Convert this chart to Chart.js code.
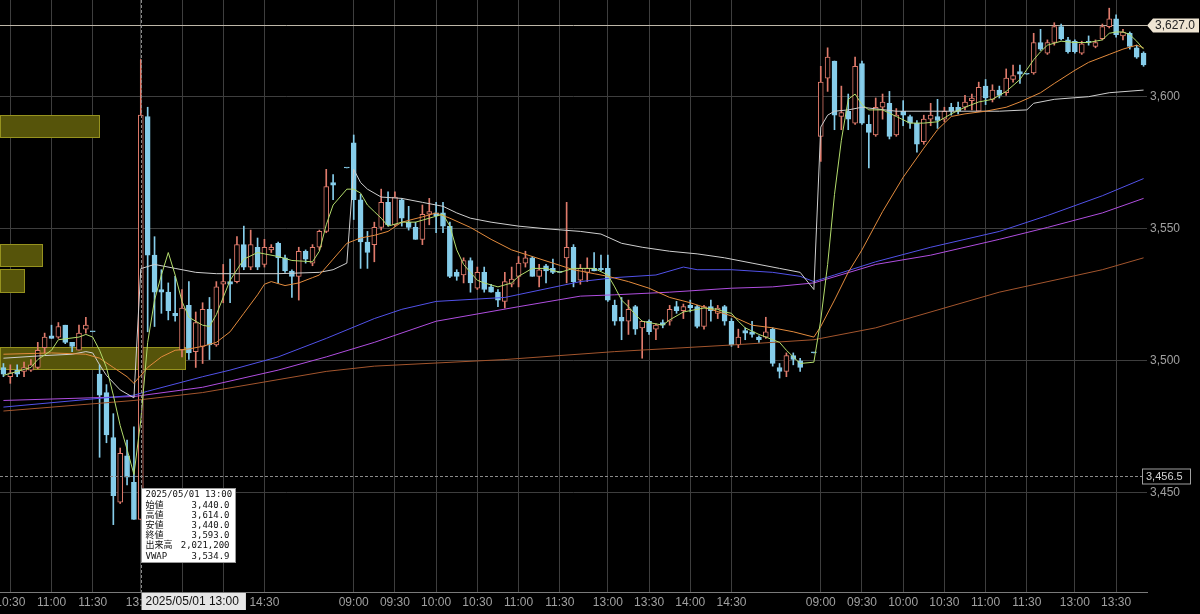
<!DOCTYPE html>
<html lang="ja">
<head>
<meta charset="utf-8">
<title>5分足チャート</title>
<script src="https://cdn.jsdelivr.net/npm/chart.js@4.4.1/dist/chart.umd.min.js"></script>
<style>
  html, body { margin: 0; padding: 0; background: #000; }
  #box { position: relative; width: 1200px; height: 614px; }
</style>
</head>
<body>
<div id="box"><canvas id="chart"></canvas></div>
<script>
// 5-minute candles, 05/01 10:25 -> 05/07 13:50
const days = ['05/01', '05/02', '05/07'];
const firstBar = '10:25';
const lastBar = '13:50';
const tickTimes = ['09:00', '09:30', '10:00', '10:30', '11:00', '11:30', '13:00', '13:30', '14:00', '14:30'];
const yTicks = [3450, 3500, 3550, 3600];
const yMin = 3412.5, yMax = 3636.6;

// OHLC, one entry per bar (null = no trade)
const opens = [
  3497.5,3494,3496.5,3496,3496.5,3497.5,3505,3509.5,3509,3513.5,3507,3504,3512,3511,
  3495,3488,3471,3446.5,3464,3454,3440,3592.5,3540,3527,3526,3518,3504,3521,3503.5,3505.5,3519.5,3506,3529,3530,3530,3544,3535.5,3543,3536.5,3542,3544.5,3539,3534,3532,3541.5,3537,3543,3549,3567.5,null,3573,
  3582.5,3561,3545,3544,3550.5,3560,3551.5,3561,3552.5,3550.5,3546,3555.5,3556,3556,3551,3533.5,3532.5,3538,3527.5,3533.5,3528,3526,3522.5,3529,3532,3537,3539,3532,3536,3535,3533.5,
  3539,3543,3530.5,3533.5,3535,3535,3535,3521,3516.5,3515,3520.5,3512.5,3515,3512,3514.5,3515,3520.5,3519,3521,3520.5,3513,3520.5,3518,3520.5,3515,3506,3511.5,3511,3509,3509,3512,3497.5,3496,3502,3500,null,3503,
  3585,3607,3613.5,3592.5,3594.5,3590,3612.5,3589.5,3585.5,3596,3597.5,3585.5,3594.5,3592.5,3590,3583,3591.5,3592.5,3591.5,3596,3596,3596,3598.5,3594.5,3604,3599,3602.5,3601.5,3606.5,3609.5,3608.5,
  3609,3620.5,3616.5,3620.5,3626.5,3621.5,3621,3616.5,3621,3619,3622,3626.5,3629.5,3623,3624,3618.5,3616.5
];
const highs = [
  3499,3498.5,3498.5,3499.5,3500.5,3507,3510.5,3513.5,3514.5,3513.5,3507,3513.5,3516.5,3511,
  3498.5,3491,3480,3467,3470,3475,3614,3596,3547,3534.5,3529.5,3532,3527,3530,3518.5,3522,3524,3530,3536.5,3538.5,3547,3551,3549.5,3546.5,3546,3544,3545,3540,3534.5,3543,3542,3544,3549.5,3572.5,3570.5,null,3573,
  3585.5,3563,3549,3552.5,3565,3564,3564,3561.5,3558.5,3552.5,3559,3561.5,3560,3560,3552.5,3534.5,3539,3539,3535.5,3535.5,3529,3527,3533.5,3535.5,3539.5,3541.5,3539.5,3536.5,3536.5,3538.5,3533.5,
  3560,3544,3536.5,3539,3541,3540,3540,3523,3524,3523,3521,3515,3515.5,3514,3515.5,3521,3522.5,3521.5,3523,3521,3521,3523,3521,3521,3516,3512,3512.5,3515,3509.5,3516.5,3512.5,3499,3503,3503,3501,null,3503,
  3611.5,3618.5,3613.5,3604,3601,3615,3613.5,3593,3599.5,3601,3602,3595.5,3598.5,3593,3591,3593,3597.5,3599,3596,3597.5,3598,3600.5,3601,3605.5,3606.5,3604.5,3604,3610.5,3612,3612,3608.5,
  3624,3625.5,3621.5,3628,3627.5,3622.5,3621.5,3621,3623,3621.5,3627.5,3633.5,3631,3625.5,3624.5,3619.5,3617
];
const lows = [
  3494,3491.5,3494,3494,3496,3497,3503,3508.5,3508.5,3506.5,3503.5,3504,3510.5,3511,
  3463.5,3469,3438,3446,3453,3440,3440,3511,3513,3518,3515.5,3515,3501.5,3500.5,3497.5,3499,3500.5,3505.5,3522,3522,3529.5,3534.5,3534.5,3534.5,3535.5,3541,3529.5,3533.5,3524,3523,3537,3536,3542,3548.5,3561,null,3573,
  3553.5,3535,3535,3537.5,3549.5,3551,3551,3551,3549.5,3546,3544,3551.5,3548.5,3548.5,3531.5,3530.5,3529.5,3526,3527,3526,3526,3520.5,3520,3528,3528,3535.5,3532,3528,3529.5,3533,3533.5,
  3529.5,3528,3529,3530,3534,3534,3522.5,3513.5,3508,3510,3510,3501,3510,3508,3512.5,3513.5,3518,3516,3518.5,3512.5,3512,3515,3516,3513.5,3505.5,3505,3508,3509,3507,3508.5,3498,3493.5,3494,3498.5,3496,null,3503,
  3575.5,3602,3587.5,3587.5,3587.5,3589.5,3589.5,3573,3585,3591.5,3584,3585,3589,3588,3579,3582,3589,3588,3590.5,3593,3593.5,3595,3595,3594.5,3597,3598,3599.5,3600.5,3605.5,3605,3608.5,
  3608.5,3617.5,3616,3619.5,3621.5,3616.5,3616.5,3616,3619.5,3618.5,3621.5,3626,3622.5,3621.5,3618,3614.5,3611.5
];
const closes = [
  3495,3495.5,3495,3497.5,3498.5,3504,3509,3508.5,3513,3507,3505.5,3510.5,3513.5,3511,
  3487,3472,3449,3465,3456,3440,3593,3540,3526,3526,3519,3517,3520,3503,3514.5,3519.5,3506,3528,3530,3529,3544,3535.5,3544,3535.5,3543,3543,3539,3534,3532,3541.5,3538.5,3543,3549,3566,3566.5,null,3573,
  3561,3545,3541,3550.5,3560,3551.5,3562,3554,3550.5,3546,3555.5,3556.5,3555,3551,3532,3532,3538,3529.5,3533.5,3527,3526,3523,3530,3531,3537,3539,3532,3534.5,3534,3533.5,3533.5,
  3543,3530,3535,3535,3534,3534.5,3523,3515,3515,3519.5,3512,3515,3511,3513.5,3513.5,3519.5,3519,3520.5,3520,3513,3520.5,3519,3520,3515,3506,3509,3510.5,3510,3508,3511,3499,3496,3502,3500.5,3497.5,null,3503,
  3605.5,3615,3593,3594,3591.5,3611.5,3590,3586.5,3596,3598,3585,3593,3593,3590,3582,3591.5,3593,3591,3594.5,3594.5,3594.5,3598,3599.5,3603.5,3599.5,3602.5,3600.5,3607,3608,3608.5,3608.5,
  3620.5,3618,3620.5,3626.5,3622,3617,3617,3620,3620.5,3620.5,3626.5,3629.5,3623.5,3624.5,3619,3615,3612
];

// indicator lines, read at selected bars
const ma5 = [
  ['05/01 10:25',3494.5],['05/01 10:45',3497.5],['05/01 10:50',3500.5],['05/01 11:00',3504],['05/01 11:05',3508],
  ['05/01 11:20',3509],['05/01 11:25',3510],['05/01 11:30',3509],['05/01 12:30',3504],['05/01 12:35',3497.5],
  ['05/01 12:40',3487],['05/01 12:45',3475.5],['05/01 12:50',3466.5],['05/01 12:55',3457],['05/01 13:00',3477.5],
  ['05/01 13:05',3507],['05/01 13:10',3523],['05/01 13:15',3532.5],['05/01 13:20',3541],['05/01 13:25',3532.5],
  ['05/01 13:30',3522.5],['05/01 13:35',3516.5],['05/01 13:40',3515],['05/01 13:45',3513.5],['05/01 13:50',3513],
  ['05/01 13:55',3517.5],['05/01 14:00',3524],['05/01 14:05',3530.5],['05/01 14:15',3538.5],['05/01 14:25',3541],
  ['05/01 14:40',3539.5],['05/01 14:50',3538],['05/01 15:05',3537.5],['05/01 15:10',3541.5],['05/01 15:15',3551.5],
  ['05/01 15:20',3559],['05/01 15:30',3565],
  ['05/02 09:00',3565],['05/02 09:05',3563.5],['05/02 09:10',3559],['05/02 09:15',3556.5],['05/02 09:20',3554],
  ['05/02 09:25',3551],['05/02 09:35',3552.5],['05/02 09:45',3552.5],['05/02 09:55',3554],['05/02 10:05',3555.5],
  ['05/02 10:10',3551],['05/02 10:15',3542],['05/02 10:20',3536.5],['05/02 10:25',3533.5],['05/02 10:30',3530.5],
  ['05/02 10:35',3529.5],['05/02 10:45',3528],['05/02 10:55',3529.5],['05/02 11:00',3532],['05/02 11:10',3535],
  ['05/02 11:20',3535],['05/02 11:30',3533.5],['05/02 12:35',3535],['05/02 12:50',3535],['05/02 13:00',3532.5],
  ['05/02 13:05',3528],['05/02 13:10',3523],['05/02 13:15',3520.5],['05/02 13:20',3517.5],['05/02 13:25',3515],
  ['05/02 13:35',3514],['05/02 13:40',3513.5],['05/02 13:45',3515.5],['05/02 13:55',3518.5],['05/02 14:05',3519.5],
  ['05/02 14:10',3520],['05/02 14:20',3519.5],['05/02 14:25',3518.5],['05/02 14:30',3518],['05/02 14:35',3515],
  ['05/02 14:40',3512.5],['05/02 14:50',3510],['05/02 15:00',3508],['05/02 15:05',3507],['05/02 15:10',3504],
  ['05/02 15:20',3499],['05/02 15:30',3499.5],
  ['05/07 09:00',3515.5],['05/07 09:05',3536.5],['05/07 09:10',3563],['05/07 09:15',3583.5],['05/07 09:20',3599],
  ['05/07 09:25',3601],['05/07 09:30',3597],['05/07 09:35',3595],['05/07 09:45',3595],['05/07 09:55',3592.5],
  ['05/07 10:05',3590],['05/07 10:15',3590],['05/07 10:25',3590.5],['05/07 10:35',3593.5],['05/07 10:45',3596],
  ['05/07 10:55',3598],['05/07 11:05',3599],['05/07 11:15',3602],['05/07 11:25',3606.5],['05/07 12:30',3614],
  ['05/07 12:35',3617],['05/07 12:40',3619.5],['05/07 12:50',3621],['05/07 13:00',3620.5],['05/07 13:10',3620.5],
  ['05/07 13:20',3621.5],['05/07 13:25',3624],['05/07 13:30',3624.5],['05/07 13:35',3624.5],['05/07 13:40',3623.5],
  ['05/07 13:45',3621],['05/07 13:50',3618]
];
const ma25 = [
  ['05/01 10:25',3502.5],['05/01 11:00',3503],['05/01 11:25',3502.5],['05/01 12:30',3501],['05/01 12:40',3497.5],
  ['05/01 12:50',3494],['05/01 12:55',3491.5],['05/01 13:00',3494.5],['05/01 13:05',3497.5],['05/01 13:15',3501.5],
  ['05/01 13:25',3504],['05/01 13:35',3504.5],['05/01 13:45',3505.5],['05/01 13:55',3507],['05/01 14:05',3511],
  ['05/01 14:15',3518],['05/01 14:25',3525],['05/01 14:30',3529],['05/01 14:35',3530],['05/01 14:45',3528.5],
  ['05/01 14:55',3529.5],['05/01 15:05',3531.5],['05/01 15:10',3532.5],['05/01 15:20',3538.5],['05/01 15:30',3544.5],
  ['05/02 09:05',3546.5],['05/02 09:15',3547.5],['05/02 09:25',3549],['05/02 09:35',3552.5],['05/02 09:50',3554.5],
  ['05/02 10:00',3556],['05/02 10:10',3554],['05/02 10:25',3550.5],['05/02 10:40',3546],['05/02 10:55',3542],
  ['05/02 11:10',3539.5],['05/02 11:25',3537],['05/02 12:35',3534.5],['05/02 12:50',3533],['05/02 13:00',3532],
  ['05/02 13:15',3530],['05/02 13:30',3527.5],['05/02 13:45',3524],['05/02 14:00',3522],['05/02 14:15',3519.5],
  ['05/02 14:30',3517],['05/02 14:45',3513.5],['05/02 15:00',3512.5],['05/02 15:15',3511],['05/02 15:30',3509],
  ['05/07 09:00',3513],['05/07 09:10',3523],['05/07 09:20',3533.5],['05/07 09:30',3542],['05/07 09:45',3556.5],
  ['05/07 10:00',3569.5],['05/07 10:15',3580.5],['05/07 10:25',3587.5],['05/07 10:35',3592.5],['05/07 10:45',3593.5],
  ['05/07 11:00',3594.5],['05/07 11:15',3596],['05/07 11:25',3598],['05/07 12:35',3601.5],['05/07 12:45',3605],
  ['05/07 13:00',3610],['05/07 13:10',3613],['05/07 13:25',3616],['05/07 13:35',3618],['05/07 13:45',3619.5],
  ['05/07 13:50',3618.5]
];
const vwap = [
  ['05/01 10:25',3501],['05/01 10:55',3502],['05/01 11:15',3502.5],['05/01 11:25',3503.5],['05/01 11:30',3503],
  ['05/01 12:30',3498.5],['05/01 12:35',3494.5],['05/01 12:45',3489],['05/01 12:55',3486],['05/01 13:00',3534.9],
  ['05/01 13:10',3536.5],['05/01 13:25',3535],['05/01 13:40',3533.5],['05/01 13:55',3533],['05/01 14:40',3533],
  ['05/01 15:10',3533.5],['05/01 15:20',3534.5],['05/01 15:30',3537],
  ['05/02 09:00',3572.5],['05/02 09:05',3567.5],['05/02 09:10',3565],['05/02 09:20',3562],['05/02 09:35',3561.5],
  ['05/02 09:50',3560],['05/02 10:05',3558.5],['05/02 10:15',3556],['05/02 10:25',3554],['05/02 10:40',3552.5],
  ['05/02 11:00',3551],['05/02 11:20',3550],['05/02 12:40',3549],['05/02 12:55',3548],['05/02 13:10',3544.5],
  ['05/02 13:25',3543],['05/02 13:45',3541.5],['05/02 14:05',3540.5],['05/02 14:25',3539],['05/02 14:45',3537],
  ['05/02 15:05',3535],['05/02 15:20',3533.5],['05/02 15:30',3527],
  ['05/07 09:00',3588.5],['05/07 09:05',3593],['05/07 09:10',3594.5],['05/07 09:20',3595],['05/07 09:30',3596],
  ['05/07 09:55',3594.5],['05/07 10:20',3594.5],['05/07 10:45',3594.5],['05/07 11:10',3594.5],['05/07 11:30',3595],
  ['05/07 12:30',3597.5],['05/07 12:45',3599],['05/07 13:10',3600],['05/07 13:25',3601.5],['05/07 13:50',3602.5]
];
const ma75 = [
  ['05/01 10:25',3482.5],['05/01 12:55',3487],['05/01 13:05',3488.5],['05/01 13:45',3494],['05/01 14:05',3496.5],
  ['05/01 14:40',3501.5],['05/01 15:15',3508.5],['05/02 09:15',3516],['05/02 09:35',3519.5],['05/02 10:00',3522.5],
  ['05/02 10:50',3524],['05/02 12:40',3530],['05/02 13:05',3531.5],['05/02 13:35',3532.5],['05/02 13:55',3535.5],
  ['05/02 14:05',3534.5],['05/02 14:30',3534.5],['05/02 15:00',3533.5],['05/02 15:20',3532],['05/02 15:30',3530],
  ['05/07 09:10',3532.5],['05/07 09:40',3537.5],['05/07 10:20',3543],['05/07 11:10',3549],['05/07 12:40',3555],
  ['05/07 13:20',3562.5],['05/07 13:50',3569]
];
const ma100 = [
  ['05/01 10:25',3485],['05/01 12:55',3486.5],['05/01 13:45',3490],['05/01 14:40',3496.5],['05/01 15:15',3501.5],
  ['05/02 09:15',3507],['05/02 10:00',3515],['05/02 11:00',3520.5],['05/02 12:40',3524.5],['05/02 13:05',3525],
  ['05/02 13:45',3526],['05/02 14:30',3527.5],['05/02 15:00',3528],['05/02 15:30',3529.5],['05/07 09:40',3536.5],
  ['05/07 10:20',3540],['05/07 11:10',3546],['05/07 12:40',3550.5],['05/07 13:20',3556],['05/07 13:50',3561.5]
];
const ma200 = [
  ['05/01 10:25',3481],['05/01 12:55',3485],['05/01 13:45',3488],['05/01 15:15',3496],['05/02 09:15',3498],
  ['05/02 10:50',3500.5],['05/02 13:05',3503.5],['05/02 14:30',3506],['05/02 15:30',3508],['05/07 09:40',3512.5],
  ['05/07 11:10',3526],['05/07 13:20',3534.5],['05/07 13:50',3539]
];

// price-volume bands at the left edge
const bandLow  = [3584.5, 3535.6, 3525.8, 3496.6];
const bandHigh = [3593.2, 3544.3, 3534.8, 3505.3];
const bandVol  = [100, 43, 25, 185];

const lastPrice = 3627.0;
const crossTime = '05/01 13:00';
const crossPrice = 3456.5;
const crossVolume = 2021200;

const upColor = '#e07b6c';
const downColor = '#86cdea';
const gridColor = '#3e3e3e';
const axisFont = { family: '"Liberation Sans", Arial, sans-serif', size: 12 };

function hhmm(m) {
  return String(Math.floor(m / 60)).padStart(2, '0') + ':' + String(m % 60).padStart(2, '0');
}
const session = [];
for (let m = 9 * 60; m <= 11 * 60 + 30; m += 5) session.push(hhmm(m));
for (let m = 12 * 60 + 30; m <= 15 * 60 + 30; m += 5) session.push(hhmm(m));

const labels = [];
days.forEach((d, k) => {
  let times = session;
  if (k === 0) times = times.slice(times.indexOf(firstBar));
  if (k === days.length - 1) times = times.slice(0, times.indexOf(lastBar) + 1);
  times.forEach(t => labels.push(d + ' ' + t));
});
const tickIdx = labels.map((l, i) => tickTimes.includes(l.slice(6)) ? i : -1).filter(i => i >= 0);

function sparse(pairs) {
  const arr = labels.map(() => null);
  pairs.forEach(([t, v]) => { arr[labels.indexOf(t)] = v; });
  return arr;
}
const fmt1 = v => v.toLocaleString('en-US', { minimumFractionDigits: 1, maximumFractionDigits: 1 });

const isUp = opens.map((o, k) => o != null && closes[k] > o);
const wickData = lows.map((l, k) => l == null ? null : [l, highs[k]]);
const bodyData = opens.map((o, k) => o == null ? null : [o, closes[k]]);
const vwapData = sparse(vwap);

function lineSet(label, data, color) {
  return { type: 'line', label, data, borderColor: color,
           borderWidth: 1, pointRadius: 0, spanGaps: true, tension: 0, order: 0 };
}

const overlay = {
  id: 'overlay',
  beforeDraw(chart) {
    const c = chart.ctx;
    c.save(); c.fillStyle = '#000'; c.fillRect(0, 0, chart.width, chart.height); c.restore();
  },
  beforeDatasetsDraw(chart) {
    const { ctx, chartArea: a, scales: { y } } = chart;
    ctx.save();
    const maxVol = Math.max(...bandVol);
    bandLow.forEach((lo, k) => {
      const top = Math.round(y.getPixelForValue(bandHigh[k]));
      const bot = Math.round(y.getPixelForValue(lo));
      const w = Math.round(bandVol[k] / maxVol * a.width * 0.162);
      ctx.fillStyle = '#56540a';
      ctx.fillRect(a.left, top, w, bot - top);
      ctx.strokeStyle = '#96921f';
      ctx.lineWidth = 1;
      ctx.strokeRect(a.left + 0.5, top + 0.5, w - 1, bot - top - 1);
    });
    const ly = Math.round(y.getPixelForValue(lastPrice)) + 0.5;
    ctx.strokeStyle = '#bdb6a8';
    ctx.beginPath(); ctx.moveTo(a.left, ly); ctx.lineTo(a.right, ly); ctx.stroke();
    ctx.restore();
  },
  afterDraw(chart) {
    const { ctx, chartArea: a, scales: { x, y } } = chart;
    const ci = labels.indexOf(crossTime);
    const cx = Math.round(x.getPixelForValue(ci)) + 0.5;
    const cy = Math.round(y.getPixelForValue(crossPrice)) + 0.5;
    ctx.save();
    // crosshair
    ctx.lineWidth = 1;
    ctx.strokeStyle = '#8a8a8a';
    ctx.setLineDash([3, 2]);
    ctx.beginPath();
    ctx.moveTo(a.left, cy); ctx.lineTo(a.right, cy);
    ctx.moveTo(cx, a.top); ctx.lineTo(cx, a.bottom);
    ctx.stroke();
    ctx.setLineDash([]);

    // last price tag
    const ly = Math.round(y.getPixelForValue(lastPrice)) + 0.5;
    ctx.fillStyle = '#efe5d3';
    ctx.beginPath();
    ctx.moveTo(a.right, ly);
    ctx.lineTo(a.right + 6, ly - 7);
    ctx.lineTo(a.right + 52, ly - 7);
    ctx.lineTo(a.right + 52, ly + 7);
    ctx.lineTo(a.right + 6, ly + 7);
    ctx.closePath();
    ctx.fill();
    ctx.fillStyle = '#222';
    ctx.font = '12px "Liberation Sans", Arial, sans-serif';
    ctx.textBaseline = 'middle';
    ctx.textAlign = 'left';
    ctx.fillText(fmt1(lastPrice), a.right + 8, ly + 0.5);

    // crosshair price tag
    ctx.fillStyle = '#000';
    ctx.fillRect(a.right - 5, cy - 8, 49, 16);
    ctx.strokeStyle = '#a0a0a0';
    ctx.strokeRect(a.right - 4.5, cy - 7.5, 48, 15);
    ctx.fillStyle = '#d4d4d4';
    ctx.font = '11px "Liberation Sans", Arial, sans-serif';
    ctx.fillText(fmt1(crossPrice), a.right - 1, cy + 0.5);

    // crosshair time tag
    const tLabel = '2025/' + crossTime;
    ctx.font = '12px "Liberation Sans", Arial, sans-serif';
    const tw = ctx.measureText(tLabel).width + 11;
    ctx.fillStyle = '#e6e6e6';
    ctx.fillRect(cx, a.bottom + 1, tw, 17);
    ctx.fillStyle = '#111';
    ctx.fillText(tLabel, cx + 4, a.bottom + 10);

    // data window
    const bx = cx, by = cy + 12, bw = 94, bh = 74;
    ctx.fillStyle = '#fff';
    ctx.fillRect(bx, by, bw, bh);
    ctx.strokeStyle = '#9a9a9a';
    ctx.strokeRect(bx, by, bw, bh);
    ctx.fillStyle = '#111';
    ctx.font = '9px "DejaVu Sans Mono", "Noto Sans CJK JP", monospace';
    ctx.textBaseline = 'middle';
    ctx.fillText(tLabel, bx + 4, by + 6.5);
    const rows = [
      ['始値', fmt1(opens[ci])], ['高値', fmt1(highs[ci])], ['安値', fmt1(lows[ci])],
      ['終値', fmt1(closes[ci])], ['出来高', crossVolume.toLocaleString('en-US')], ['VWAP', fmt1(vwapData[ci])]
    ];
    rows.forEach(([k, v], r) => {
      const ry = by + 6.5 + (r + 1) * 10.2;
      ctx.textAlign = 'left';
      ctx.fillText(k, bx + 4, ry);
      ctx.textAlign = 'right';
      ctx.fillText(v, bx + bw - 6, ry);
    });
    ctx.restore();
  }
};

new Chart(document.getElementById('chart'), {
  type: 'bar',
  data: {
    labels,
    datasets: [
      lineSet('MA5', sparse(ma5), '#b3dc6c'),
      lineSet('MA25', sparse(ma25), '#e38b3d'),
      lineSet('VWAP', vwapData, '#cfcfcf'),
      lineSet('MA75', sparse(ma75), '#5252ea'),
      lineSet('MA100', sparse(ma100), '#b04ee0'),
      lineSet('MA200', sparse(ma200), '#a3552d'),
      {
        label: 'body', data: bodyData, order: 1, grouped: false, barThickness: 5, minBarLength: 1,
        backgroundColor: isUp.map(u => u ? '#000' : downColor),
        borderColor: isUp.map(u => u ? upColor : downColor),
        borderWidth: 1, borderSkipped: false
      },
      {
        label: 'wick', data: wickData, order: 2, grouped: false, barThickness: 1,
        backgroundColor: isUp.map(u => u ? upColor : downColor), borderWidth: 0
      }
    ]
  },
  options: {
    responsive: true,
    maintainAspectRatio: false,
    animation: false,
    layout: { padding: 0 },
    plugins: { legend: { display: false }, tooltip: { enabled: false } },
    scales: {
      x: {
        offset: true,
        grid: { color: gridColor, offset: false, drawTicks: false },
        border: { color: '#7a7a7a' },
        ticks: { color: '#a0a0a0', font: axisFont, maxRotation: 0, autoSkip: false, padding: 3,
                 callback: v => labels[v].slice(6) },
        afterBuildTicks: s => { s.ticks = tickIdx.map(v => ({ value: v })); },
        afterFit: s => { s.height = 22; s.paddingLeft = 0; s.paddingRight = 0; }
      },
      y: {
        position: 'right',
        min: yMin, max: yMax,
        grid: { color: gridColor, drawTicks: false },
        border: { display: false },
        ticks: { color: '#a0a0a0', font: axisFont, padding: 3, callback: v => v.toLocaleString('en-US') },
        afterBuildTicks: s => { s.ticks = yTicks.map(v => ({ value: v })); },
        afterFit: s => { s.width = 53; s.paddingTop = 0; s.paddingBottom = 0; }
      }
    }
  },
  plugins: [overlay]
});
</script>
</body>
</html>
